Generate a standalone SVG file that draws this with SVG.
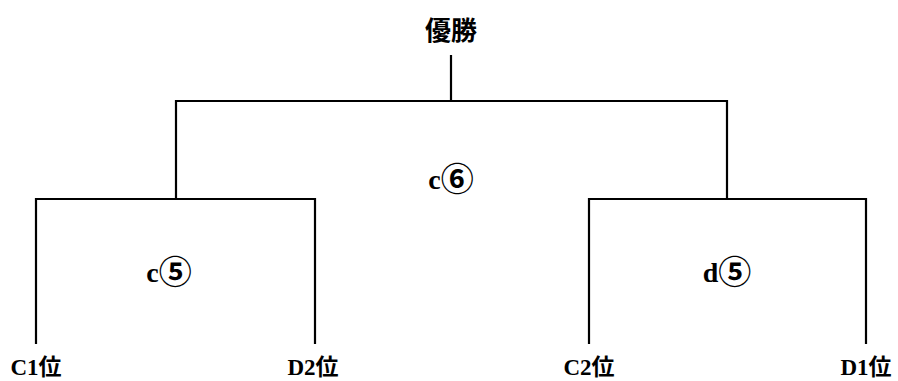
<svg xmlns="http://www.w3.org/2000/svg" width="898" height="381" viewBox="0 0 898 381">
<style>
.t{font-family:"Liberation Serif","Noto Sans CJK JP",serif;font-weight:bold;fill:#000;text-anchor:middle}
.big{font-size:28px}
.top{font-size:26px}
.lbl{font-size:23px}
.n{font-family:"Noto Sans CJK JP",sans-serif;font-weight:bold;font-size:33px}
.c{fill:none;stroke:#000;stroke-width:2.2}
</style>
<rect width="898" height="381" fill="#fff"/>
<g id="connectors">
<path class="c" d="M451,55V101M176,199V101H727V199"/>
<path class="c" d="M36,344V199H315V344"/>
<path class="c" d="M589,344V199H866V344"/>
</g>
<g id="champion"><text class="t top" x="451" y="40">優勝</text></g>
<g id="c6"><text class="t big" x="451" y="189">c<tspan class="n" dy="2">⑥</tspan></text></g>
<g id="c5"><text class="t big" x="169" y="282">c<tspan class="n" dy="2">⑤</tspan></text></g>
<g id="d5"><text class="t big" x="727" y="282">d<tspan class="n" dy="2">⑤</tspan></text></g>
<g id="C1"><text class="t lbl" x="36" y="375">C1位</text></g>
<g id="D2"><text class="t lbl" x="313" y="375">D2位</text></g>
<g id="C2"><text class="t lbl" x="589" y="375">C2位</text></g>
<g id="D1"><text class="t lbl" x="866" y="375">D1位</text></g>
</svg>
